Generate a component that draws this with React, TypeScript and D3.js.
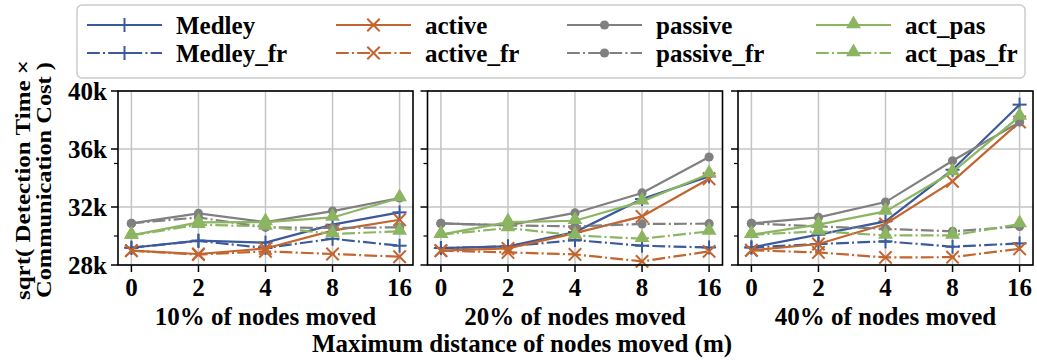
import React from "react";
import * as d3 from "d3";

const categories = ["0", "2", "4", "8", "16"];
const panelTitles = ["10% of nodes moved", "20% of nodes moved", "40% of nodes moved"];
const yTicks = [28000, 32000, 36000, 40000];
const yMinorTicks = [30000, 35000];
const yTickLabels = ["28k", "32k", "36k", "40k"];

// values in thousands, per panel
const medley = [
  [29.19, 29.68, 29.54, 30.78, 31.63],
  [29.17, 29.28, 30.27, 32.55, 34.11],
  [29.21, 30.09, 31.01, 34.57, 39.06],
];
const medleyFr = [
  [29.19, 29.66, 29.17, 29.81, 29.33],
  [29.17, 29.28, 29.72, 29.33, 29.21],
  [29.21, 29.45, 29.63, 29.26, 29.49],
];
const active = [
  [28.99, 28.76, 29.14, 30.37, 31.12],
  [28.99, 29.14, 30.2, 31.35, 33.95],
  [29.01, 29.45, 30.83, 33.77, 37.86],
];
const activeFr = [
  [28.99, 28.72, 28.94, 28.76, 28.57],
  [28.99, 28.87, 28.73, 28.25, 28.94],
  [29.01, 28.87, 28.52, 28.54, 29.12],
];
const passive = [
  [30.87, 31.56, 30.96, 31.72, 32.62],
  [30.87, 30.73, 31.59, 32.97, 35.45],
  [30.87, 31.28, 32.34, 35.19, 37.86],
];
const passiveFr = [
  [30.87, 31.28, 30.6, 30.55, 30.6],
  [30.87, 30.73, 30.66, 30.83, 30.85],
  [30.87, 30.66, 30.5, 30.32, 30.66],
];
const actPas = [
  [30.04, 30.94, 30.96, 31.28, 32.62],
  [30.09, 30.96, 31.05, 32.39, 34.27],
  [30.09, 30.78, 31.7, 34.41, 38.25],
];
const actPasFr = [
  [30.04, 30.78, 30.66, 30.14, 30.32],
  [30.09, 30.55, 30.04, 29.81, 30.32],
  [30.09, 30.32, 30.04, 30.04, 30.83],
];

const BLUE = "#3b5a9b";
const ORANGE = "#c2652f";
const GRAY = "#808080";
const GREEN = "#8cb562";

type Series = { name: string; data: number[][]; color: string; marker: string; dashed: boolean };
const series: Series[] = [
  { name: "Medley", data: medley, color: BLUE, marker: "plus", dashed: false },
  { name: "Medley_fr", data: medleyFr, color: BLUE, marker: "plus", dashed: true },
  { name: "active", data: active, color: ORANGE, marker: "x", dashed: false },
  { name: "active_fr", data: activeFr, color: ORANGE, marker: "x", dashed: true },
  { name: "passive", data: passive, color: GRAY, marker: "dot", dashed: false },
  { name: "passive_fr", data: passiveFr, color: GRAY, marker: "dot", dashed: true },
  { name: "act_pas", data: actPas, color: GREEN, marker: "tri", dashed: false },
  { name: "act_pas_fr", data: actPasFr, color: GREEN, marker: "tri", dashed: true },
];

const FONT = "'Liberation Serif', 'Times New Roman', serif";
const DASH = "12.8,3.2,2,3.2";

function Marker({ x, y, type, color, key2 }: any) {
  if (type === "plus") {
    const s = 7;
    return (
      <g key={key2}>
        <line x1={x - s} x2={x + s} y1={y} y2={y} stroke={color} strokeWidth={2} />
        <line x1={x} x2={x} y1={y - s} y2={y + s} stroke={color} strokeWidth={2} />
      </g>
    );
  }
  if (type === "x") {
    const s = 6.2;
    return (
      <g key={key2}>
        <line x1={x - s} x2={x + s} y1={y - s} y2={y + s} stroke={color} strokeWidth={2} />
        <line x1={x - s} x2={x + s} y1={y + s} y2={y - s} stroke={color} strokeWidth={2} />
      </g>
    );
  }
  if (type === "dot") {
    return <circle key={key2} cx={x} cy={y} r={4.6} fill={color} />;
  }
  const sym = d3.symbol().type(d3.symbolTriangle).size(95)();
  return <path key={key2} d={sym as string} transform={`translate(${x},${y - 1})`} fill={color} />;
}

export default function App() {
  const W = 1037;
  const H = 362;
  const panelLefts = [118, 427.5, 738];
  const pw = 295;
  const top = 91;
  const bottom = 265;
  const y = d3.scaleLinear().domain([28000, 40000]).range([bottom, top]);

  const legendCols = [176, 425, 656, 905];
  const legendRows = [25, 53];

  return (
    <svg width={W} height={H} style={{ display: "block", position: "absolute", left: 0, top: 0 }}>
      <rect x={0} y={0} width={W} height={H} fill="#fff" />
      {panelLefts.map((left, pi) => {
        const x = d3.scalePoint<string>().domain(categories).range([left, left + pw]).padding(0.2);
        const line = d3
          .line<number>()
          .x((_, i) => x(categories[i]) as number)
          .y((v) => y(v * 1000));
        return (
          <g key={pi}>
            {categories.map((c) => (
              <line key={c} x1={x(c)} x2={x(c)} y1={top} y2={bottom} stroke="#c4c4c4" strokeWidth={1.5} />
            ))}
            {yTicks.map((t) => (
              <line key={t} x1={left} x2={left + pw} y1={y(t)} y2={y(t)} stroke="#c4c4c4" strokeWidth={1.5} />
            ))}
            {series.map((s, si) => (
              <g key={si}>
                <path
                  d={line(s.data[pi]) as string}
                  fill="none"
                  stroke={s.color}
                  strokeWidth={2.2}
                  strokeDasharray={s.dashed ? DASH : undefined}
                />
                {s.data[pi].map((v, i) =>
                  Marker({ x: x(categories[i]), y: y(v * 1000), type: s.marker, color: s.color, key2: i })
                )}
              </g>
            ))}
            <rect x={left} y={top} width={pw} height={bottom - top} fill="none" stroke="#000" strokeWidth={1.6} />
            {yTicks.map((t) => (
              <line key={t} x1={left - 7} x2={left} y1={y(t)} y2={y(t)} stroke="#000" strokeWidth={1.5} />
            ))}
            {yMinorTicks.map((t) => (
              <line key={t} x1={left - 4} x2={left} y1={y(t)} y2={y(t)} stroke="#000" strokeWidth={1.2} />
            ))}
            {pi === 0 &&
              yTicks.map((t, i) => (
                <text
                  key={t}
                  x={left - 11}
                  y={y(t)}
                  dy="0.35em"
                  textAnchor="end"
                  fontFamily={FONT}
                  fontWeight="bold"
                  fontSize={25}
                >
                  {yTickLabels[i]}
                </text>
              ))}
            {categories.map((c) => (
              <g key={c}>
                <line x1={x(c)} x2={x(c)} y1={bottom} y2={bottom + 7} stroke="#000" strokeWidth={1.5} />
                <text
                  x={x(c)}
                  y={bottom + 31}
                  textAnchor="middle"
                  fontFamily={FONT}
                  fontWeight="bold"
                  fontSize={25}
                >
                  {c}
                </text>
              </g>
            ))}
            <text
              x={left + pw / 2}
              y={bottom + 60}
              textAnchor="middle"
              fontFamily={FONT}
              fontWeight="bold"
              fontSize={25}
            >
              {panelTitles[pi]}
            </text>
          </g>
        );
      })}
      <text x={522} y={352} textAnchor="middle" fontFamily={FONT} fontWeight="bold" fontSize={25}>
        Maximum distance of nodes moved (m)
      </text>
      <g transform={`translate(0, ${(top + bottom) / 2 + 2}) rotate(-90)`}>
        <text
          x={0}
          y={30}
          textAnchor="middle"
          fontFamily={FONT}
          fontWeight="bold"
          fontSize={20}
          textLength={240}
          lengthAdjust="spacingAndGlyphs"
        >
          sqrt( Detection Time ×
        </text>
        <text
          x={0}
          y={51}
          textAnchor="middle"
          fontFamily={FONT}
          fontWeight="bold"
          fontSize={20}
          textLength={236}
          lengthAdjust="spacingAndGlyphs"
        >
          Communication Cost )
        </text>
      </g>
      <rect x={77} y={5} width={948} height={73} rx={5} fill="#fff" stroke="#cccccc" strokeWidth={1.5} />
      {series.map((s, si) => {
        const col = Math.floor(si / 2);
        const row = si % 2;
        const tx = legendCols[col];
        const ly = legendRows[row];
        const x0 = tx - 89;
        const x1 = x0 + 75;
        return (
          <g key={si}>
            <line
              x1={x0}
              x2={x1}
              y1={ly}
              y2={ly}
              stroke={s.color}
              strokeWidth={2.2}
              strokeDasharray={s.dashed ? DASH : undefined}
            />
            {Marker({ x: (x0 + x1) / 2, y: ly, type: s.marker, color: s.color, key2: "m" })}
            <text x={tx} y={ly} dy="0.35em" fontFamily={FONT} fontWeight="bold" fontSize={25}>
              {s.name}
            </text>
          </g>
        );
      })}
    </svg>
  );
}
